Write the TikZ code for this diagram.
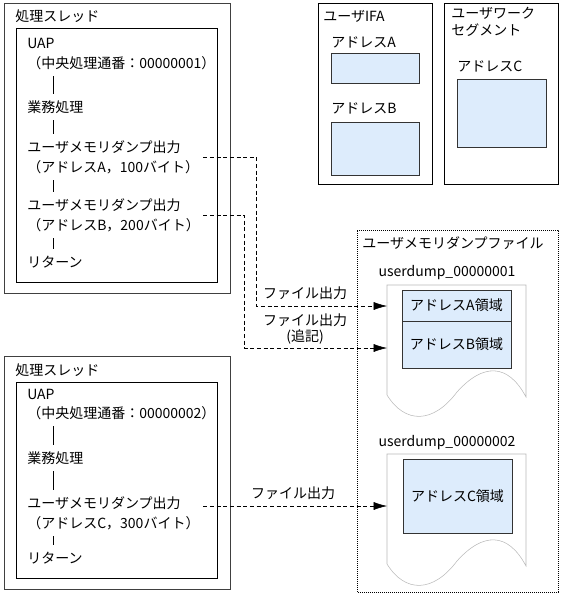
\documentclass[tikz,border=0pt]{standalone}
\usepackage{fontspec}
\setmainfont{Noto Sans CJK JP}
\usetikzlibrary{arrows.meta}
\definecolor{areafill}{RGB}{221,236,252}
\definecolor{docgray}{RGB}{185,185,185}

\begin{document}
\begin{tikzpicture}[x=0.75pt,y=0.75pt,yscale=-1,xscale=1,
  every node/.style={font=\fontsize{10.5}{15}\selectfont},
  outerbox/.style={draw=black!75},
  areabox/.style={draw=black!80,fill=areafill},
  docshape/.style={draw=docgray},
  filebox/.style={dash pattern=on 0.75pt off 0.75pt},
  tick/.style={shorten <=4pt,shorten >=4pt},
  flow/.style={dash pattern=on 3pt off 2pt,-{Latex[length=10pt,width=6pt]}}]
\useasboundingbox (0,0) rectangle (561,596);

%Shape: Rectangle [thread 1 outer]
\draw [outerbox] (4,3) -- (230,3) -- (230,293) -- (4,293) -- cycle ;
%Shape: Rectangle [thread 1 inner]
\draw   (16,28) -- (217,28) -- (217,282) -- (16,282) -- cycle ;
%Shape: Rectangle [thread 2 outer]
\draw [outerbox] (4,356) -- (230,356) -- (230,589) -- (4,589) -- cycle ;
%Shape: Rectangle [thread 2 inner]
\draw   (16,382) -- (217,382) -- (217,578) -- (16,578) -- cycle ;
%Shape: Rectangle [user IFA]
\draw   (318,3) -- (432,3) -- (432,184) -- (318,184) -- cycle ;
\draw [areabox] (331,53) -- (419,53) -- (419,83) -- (331,83) -- cycle ;
\draw [areabox] (331,122) -- (419,122) -- (419,175) -- (331,175) -- cycle ;
%Shape: Rectangle [user work segment]
\draw   (444,3) -- (558,3) -- (558,184) -- (444,184) -- cycle ;
\draw [areabox] (457,79) -- (546,79) -- (546,147) -- (457,147) -- cycle ;
%Shape: Rectangle [dump file]
\draw [filebox] (357,230) -- (558,230) -- (558,592) -- (357,592) -- cycle ;
%Shape: Document [userdump 1]
\draw [docshape] (387,285) -- (526,285) -- (526,397) .. controls (508,363) and (483,363) .. (457,392) .. controls (433,424) and (405,424) .. (387,395) -- cycle ;
\draw [areabox] (402,290) -- (511,290) -- (511,321) -- (402,321) -- cycle ;
\draw [areabox] (402,321) -- (511,321) -- (511,368) -- (402,368) -- cycle ;
%Shape: Document [userdump 2]
\draw [docshape] (387,454) -- (526,454) -- (526,566) .. controls (508,532) and (483,532) .. (457,561) .. controls (433,593) and (405,593) .. (387,564) -- cycle ;
\draw [areabox] (403,459) -- (512,459) -- (512,533) -- (403,533) -- cycle ;

% Text Node
\draw (14,16) node [anchor=west][inner sep=0.75pt] (threadA) {処理スレッド};
% Text Node
\draw (26,43) node [anchor=west][inner sep=0.75pt] (uapA) {UAP};
% Text Node
\draw (26,63) node [anchor=west][inner sep=0.75pt] (seqA) {（中央処理通番：00000001）};
% Text Node
\draw (26,107) node [anchor=west][inner sep=0.75pt] (gyomuA) {業務処理};
% Text Node
\draw (26,157) node [anchor=west][inner sep=0.75pt][text width=131pt][align=left] (dumpA) {ユーザメモリダンプ出力\\（アドレスA，100バイト）};
% Text Node
\draw (26,215) node [anchor=west][inner sep=0.75pt][text width=131pt][align=left] (dumpB) {ユーザメモリダンプ出力\\（アドレスB，200バイト）};
% Text Node
\draw (26,262) node [anchor=west][inner sep=0.75pt] (retA) {リターン};

% Text Node
\draw (14,370) node [anchor=west][inner sep=0.75pt] (threadC) {処理スレッド};
% Text Node
\draw (26,394) node [anchor=west][inner sep=0.75pt] (uapC) {UAP};
% Text Node
\draw (26,413) node [anchor=west][inner sep=0.75pt] (seqC) {（中央処理通番：00000002）};
% Text Node
\draw (26,458) node [anchor=west][inner sep=0.75pt] (gyomuC) {業務処理};
% Text Node
\draw (26,513) node [anchor=west][inner sep=0.75pt][text width=131pt][align=left] (dumpC) {ユーザメモリダンプ出力\\（アドレスC，300バイト）};
% Text Node
\draw (26,558) node [anchor=west][inner sep=0.75pt] (retC) {リターン};

% Text Node
\draw (322,16) node [anchor=west][inner sep=0.75pt] (ifa) {ユーザIFA};
% Text Node
\draw (330,42) node [anchor=west][inner sep=0.75pt] (adrA) {アドレスA};
% Text Node
\draw (330,108) node [anchor=west][inner sep=0.75pt] (adrB) {アドレスB};
% Text Node
\draw (450,22) node [anchor=west][inner sep=0.75pt][align=left][font=\fontsize{10.5}{13}\selectfont] (work) {ユーザワーク\\セグメント};
% Text Node
\draw (456,66) node [anchor=west][inner sep=0.75pt] (adrC) {アドレスC};

% Text Node
\draw (361,243) node [anchor=west][inner sep=0.75pt] (dumpfile) {ユーザメモリダンプファイル};
% Text Node
\draw (447,273) node [inner sep=0.75pt] (fileA) {userdump\_00000001};
% Text Node
\draw (456.5,305.5) node [inner sep=0.75pt] (areaA) {アドレスA領域};
% Text Node
\draw (456.5,344.5) node [inner sep=0.75pt] (areaB) {アドレスB領域};
% Text Node
\draw (447,443) node [inner sep=0.75pt] (fileC) {userdump\_00000002};
% Text Node
\draw (457.5,496) node [inner sep=0.75pt] (areaC) {アドレスC領域};

% Text Node
\draw (305,293) node [inner sep=0.75pt] (outA) {ファイル出力};
% Text Node
\draw (305,329) node [inner sep=0.75pt][align=center][font=\fontsize{10.5}{12}\selectfont] (outB) {ファイル出力\\(追記)};
% Text Node
\draw (293,493) node [inner sep=0.75pt] (outC) {ファイル出力};

% Connectors
\coordinate (axisA) at (53,0);
\coordinate (inA) at (387,306);
\coordinate (inB) at (387,348);
\coordinate (inC) at (387,506);

\draw [tick] (axisA |- seqA.south) -- (axisA |- gyomuA.north);
\draw [tick] (axisA |- gyomuA.south) -- (axisA |- dumpA.north);
\draw [tick] (axisA |- dumpA.south) -- (axisA |- dumpB.north);
\draw [tick] (axisA |- dumpB.south) -- (axisA |- retA.north);
\draw [tick] (axisA |- seqC.south) -- (axisA |- gyomuC.north);
\draw [tick] (axisA |- gyomuC.south) -- (axisA |- dumpC.north);
\draw [tick] (axisA |- dumpC.south) -- (axisA |- retC.north);

\draw [flow] (dumpA.east) -- ++(53,0) |- (inA);
\draw [flow] (dumpB.east) -- ++(41,0) |- (inB);
\draw [flow] (inC -| dumpC.east) -- (inC);

\end{tikzpicture}
\end{document}
